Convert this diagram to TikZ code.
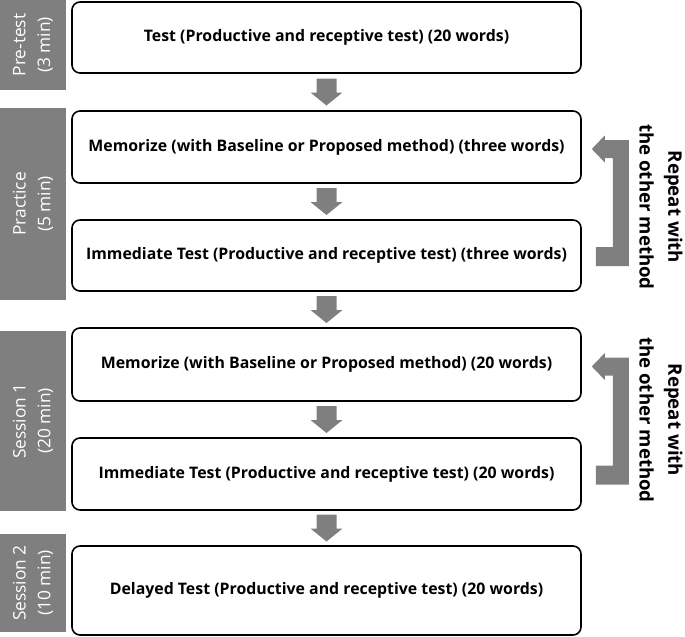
\documentclass[tikz,border=0pt]{standalone}
\usepackage{fontspec}
\setmainfont{Open Sans}
\usetikzlibrary{calc}
\definecolor{agray}{HTML}{7F7F7F}
\tikzset{
  stepbox/.style={draw=black, line width=1.2pt, rounded corners=6pt, fill=white,
    minimum width=381.75pt, inner sep=0pt, align=center,
    font=\fontsize{11.9}{14}\selectfont\bfseries},
  phase/.style={fill=agray, text=white, rotate=90, inner sep=0pt, align=center,
    minimum height=49.5pt, font=\fontsize{13}{18.5}\selectfont},
  blk/.style={fill=agray, draw=none},
  reptext/.style={rotate=-90, align=center, inner sep=0pt,
    font=\fontsize{14}{21.5}\selectfont\bfseries}
}
\newcommand\downblk[1]{%
  \fill[blk] ($(#1)+(-10,-13.5)$) -- ($(#1)+(10,-13.5)$) -- ($(#1)+(10,0.5)$)
    -- ($(#1)+(16,0.5)$) -- ($(#1)+(0,13.5)$) -- ($(#1)+(-16,0.5)$)
    -- ($(#1)+(-10,0.5)$) -- cycle;}
\newcommand\repblk[3]{% #1 upper box, #2 lower box, #3 name prefix
  \coordinate (#3T) at ($(#1.east)+(10,2)$);
  \coordinate (#3B) at ($(#2.east)+(0,1)$);
  \coordinate (#3R) at ($(#3T)+(37,0)$);
  \coordinate (#3I) at ($(#3T)+(21,0)$);
  \coordinate (#3L) at ($(#3T)+(4,0)$);
  \fill[blk] (#3T) -- ($(#3T)+(13,-13.5)$) -- ($(#3T)+(13,-9)$) -- ($(#3R)+(0,-9)$)
    -- ($(#3R|-#3B)+(0,9.5)$) -- ($(#3L|-#3B)+(0,9.5)$) -- ($(#3L|-#3B)+(0,-9.5)$)
    -- ($(#3I|-#3B)+(0,-9.5)$) -- ($(#3I)+(0,9)$) -- ($(#3T)+(13,9)$)
    -- ($(#3T)+(13,13.5)$) -- cycle;}
\begin{document}
\begin{tikzpicture}[x=0.75pt, y=-0.75pt]
\useasboundingbox (0,0) rectangle (685,636);
% phase labels
\node[phase, minimum width=67.5pt] (p1) at (33,45) {Pre-test\\(3 min)};
\node[phase, minimum width=144pt] (p2) at (33,204) {Practice\\(5 min)};
\node[phase, minimum width=135pt] (p3) at (33,421) {Session 1\\(20 min)};
\node[phase, minimum width=73.5pt] (p4) at (33,583) {Session 2\\(10 min)};
% step boxes
\node[stepbox, minimum height=53.25pt] (b1) at (326.5,37.5) {Test (Productive and receptive test) (20 words)};
\node[stepbox, minimum height=54pt] (b2) at (326.5,147) {Memorize (with Baseline or Proposed method) (three words)};
\node[stepbox, minimum height=53.25pt] (b3) at (326.5,255.5) {Immediate Test (Productive and receptive test) (three words)};
\node[stepbox, minimum height=54.75pt] (b4) at (326.5,364.5) {Memorize (with Baseline or Proposed method) (20 words)};
\node[stepbox, minimum height=54pt] (b5) at (326.5,474) {Immediate Test (Productive and receptive test) (20 words)};
\node[stepbox, minimum height=66.75pt] (b6) at (326.5,590.5) {Delayed Test (Productive and receptive test) (20 words)};
% down arrows
\coordinate (a1) at ($(b1.south)!0.5!(b2.north)$);
\coordinate (a2) at ($(b2.south)!0.5!(b3.north)$);
\coordinate (a3) at ($(b3.south)!0.5!(b4.north)$);
\coordinate (a4) at ($(b4.south)!0.5!(b5.north)$);
\coordinate (a5) at ($(b5.south)!0.5!(b6.north)$);
\downblk{a1}\downblk{a2}\downblk{a3}\downblk{a4}\downblk{a5}
% repeat arrows
\repblk{b2}{b3}{r1}
\repblk{b4}{b5}{r2}
\node[reptext] (t1) at (661,207) {Repeat with\\the other method};
\node[reptext] (t2) at (661,420) {Repeat with\\the other method};
\end{tikzpicture}
\end{document}
